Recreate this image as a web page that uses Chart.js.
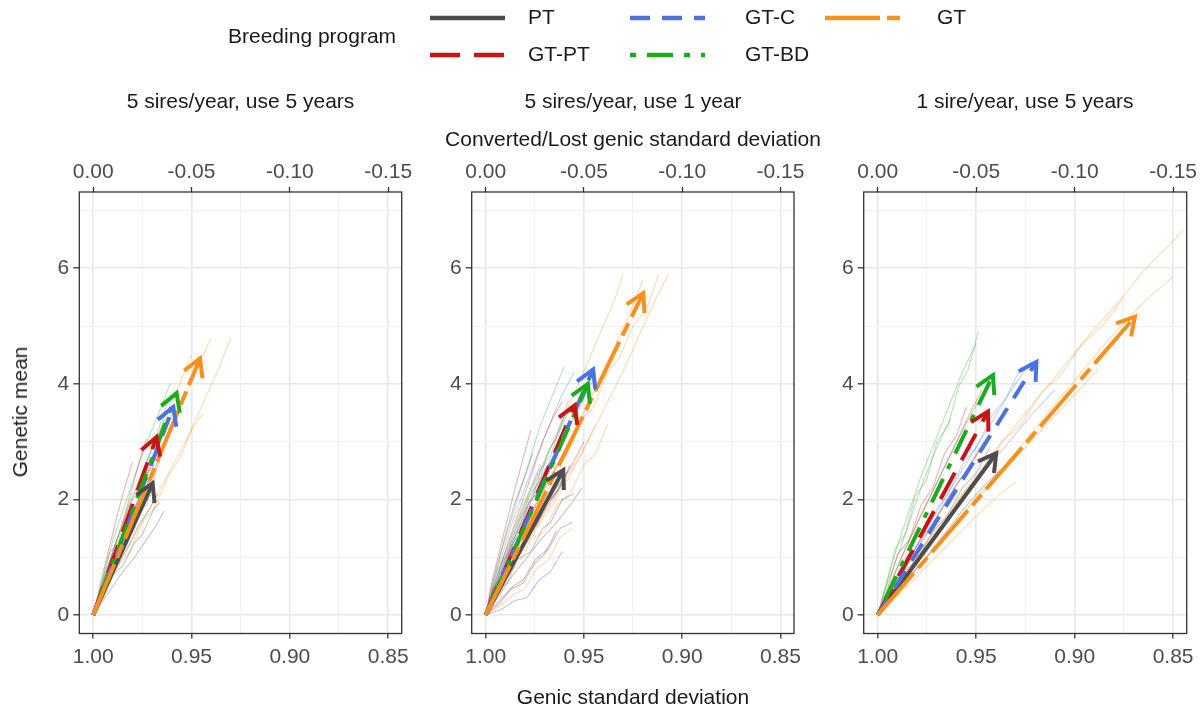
<!DOCTYPE html>
<html>
<head>
<meta charset="utf-8">
<script src="https://cdn.jsdelivr.net/npm/chart.js@4.4.1/dist/chart.umd.min.js"></script>
<style>
  body { margin: 0; width: 1203px; height: 708px; background: #fff; position: relative; overflow: hidden;
         font-family: "Liberation Sans", Arial, sans-serif; }
  canvas { position: absolute; left: 0; top: 0; }
  .lbl { position: absolute; white-space: nowrap; color: #1a1a1a; font-size: 21px; transform: translate(-50%, -50%); }
  .rot { transform: translate(-50%, -50%) rotate(-90deg); }
</style>
</head>
<body>
<canvas id="c1" width="1203" height="708"></canvas>
<canvas id="c2" width="1203" height="708"></canvas>
<canvas id="c3" width="1203" height="708"></canvas>

<div class="lbl" style="left:240.5px;top:101px">5 sires/year, use 5 years</div>
<div class="lbl" style="left:633px;top:101px">5 sires/year, use 1 year</div>
<div class="lbl" style="left:1025px;top:101px">1 sire/year, use 5 years</div>
<div class="lbl" style="left:633px;top:139px">Converted/Lost genic standard deviation</div>
<div class="lbl" style="left:633px;top:697px">Genic standard deviation</div>
<div class="lbl rot" style="left:20px;top:412px">Genetic mean</div>

<script>
// programas y estilos
const programs = ['PT', 'GT-PT', 'GT-C', 'GT-BD', 'GT'];
const progColors = ['#4D4D4D', '#C81414', '#4A72E0', '#1EAA1E', '#F8901E'];
const progDash = [[], [30, 14], [20, 12], [6, 11, 26, 11], [55, 7, 14, 7]];

// ejes
const sdTicks = [0.85, 0.875, 0.9, 0.925, 0.95, 0.975, 1.0];
const lostTicks = [-0.15, -0.10, -0.05, 0];
const meanTicks = [0, 1, 2, 3, 4, 5, 6, 7];

// puntos finales de las flechas (desviación génica, media genética)
const endSD1 = [0.9698, 0.9678, 0.9593, 0.9576, 0.9457];
const endMean1 = [2.28, 3.08, 3.60, 3.84, 4.44];
const endSD2 = [0.9605, 0.9546, 0.9453, 0.948, 0.9198];
const endMean2 = [2.51, 3.63, 4.25, 4.0, 5.57];
const endSD3 = [0.9398, 0.944, 0.9194, 0.9415, 0.8694];
const endMean3 = [2.80, 3.52, 4.38, 4.15, 5.16];

// réplicas (líneas finas) por panel y programa
const reps1PT = [
  [[1,0],[0.994,0.4],[0.988,0.85],[0.982,1.2],[0.977,1.55],[0.972,1.8],[0.967,2.1]],
  [[1,0],[0.995,0.5],[0.99,0.95],[0.984,1.35],[0.979,1.7],[0.975,2.05],[0.971,2.4]],
  [[1,0],[0.993,0.35],[0.986,0.7],[0.979,1.0],[0.973,1.3],[0.968,1.55],[0.964,1.8]],
  [[1,0],[0.995,0.3],[0.99,0.7],[0.985,0.85],[0.979,1.25],[0.975,1.4],[0.969,1.85],[0.966,1.95]],
  [[1,0],[0.996,0.45],[0.992,0.6],[0.987,1.1],[0.983,1.3],[0.978,1.75],[0.973,1.9],[0.969,2.3]]
];
const reps1GTPT = [
  [[1,0],[0.995,0.55],[0.99,1.1],[0.985,1.6],[0.981,2.1],[0.977,2.6],[0.973,3.05]],
  [[1,0],[0.994,0.5],[0.987,1.0],[0.98,1.45],[0.975,1.9],[0.97,2.3],[0.966,2.7]],
  [[1,0],[0.996,0.6],[0.992,1.15],[0.988,1.7],[0.984,2.2],[0.98,2.65]],
  [[1,0],[0.996,0.4],[0.991,0.95],[0.987,1.15],[0.982,1.7],[0.978,1.9],[0.973,2.45],[0.969,2.6]]
];
const reps1GTC = [
  [[1,0],[0.995,0.6],[0.989,1.2],[0.983,1.75],[0.977,2.3],[0.971,2.8],[0.966,3.3],[0.962,3.7]],
  [[1,0],[0.994,0.5],[0.987,1.05],[0.98,1.6],[0.974,2.1],[0.968,2.6],[0.962,3.1]],
  [[1,0],[0.996,0.45],[0.991,1.0],[0.986,1.2],[0.981,1.8],[0.976,2.0],[0.971,2.6],[0.967,2.85],[0.963,3.3]]
];
const reps1GTBD = [
  [[1,0],[0.995,0.65],[0.99,1.3],[0.984,1.9],[0.978,2.5],[0.972,3.05],[0.966,3.55],[0.961,4.0]],
  [[1,0],[0.994,0.55],[0.988,1.1],[0.981,1.65],[0.975,2.2],[0.969,2.75],[0.963,3.25],[0.958,3.6]],
  [[1,0],[0.996,0.5],[0.992,1.05],[0.987,1.3],[0.982,1.9],[0.977,2.15],[0.972,2.75],[0.968,3.0],[0.963,3.5]]
];
const reps1GT = [
  [[1,0],[0.994,0.55],[0.987,1.1],[0.98,1.65],[0.973,2.2],[0.966,2.75],[0.959,3.3],[0.952,3.9],[0.944,4.5],[0.94,4.8]],
  [[1,0],[0.993,0.5],[0.985,1.0],[0.977,1.5],[0.969,2.0],[0.961,2.5],[0.953,3.0],[0.945,3.6],[0.937,4.2],[0.93,4.8]],
  [[1,0],[0.995,0.6],[0.989,1.2],[0.983,1.8],[0.976,2.4],[0.969,2.95],[0.962,3.5],[0.956,4.0],[0.95,4.5]],
  [[1,0],[0.994,0.35],[0.988,0.85],[0.982,1.05],[0.975,1.6],[0.969,1.85],[0.962,2.4],[0.956,2.7],[0.95,3.2],[0.944,3.5]]
];

const reps2PT = [
  [[1,0],[0.995,0.35],[0.99,0.7],[0.984,1.05],[0.978,1.4],[0.972,1.75],[0.966,2.1],[0.96,2.4]],
  [[1,0],[0.996,0.45],[0.992,0.9],[0.987,1.35],[0.982,1.8],[0.977,2.2],[0.972,2.6]],
  [[1,0],[0.994,0.3],[0.987,0.65],[0.98,0.95],[0.972,1.3],[0.964,1.6],[0.957,1.9],[0.951,2.2]],
  [[1,0],[0.997,0.5],[0.993,1.0],[0.989,1.5],[0.985,1.95],[0.98,2.4],[0.976,2.8]],
  [[1,0],[0.996,0.3],[0.991,0.75],[0.987,0.9],[0.982,1.3],[0.976,1.5],[0.97,1.95],[0.965,2.05],[0.958,2.5]],
  [[1,0],[0.995,0.4],[0.989,0.55],[0.984,0.95],[0.977,1.1],[0.971,1.5],[0.967,1.6],[0.961,2.0],[0.955,2.1]],
  [[1,0],[0.993,0.25],[0.986,0.5],[0.981,0.6],[0.975,0.95],[0.968,1.15],[0.962,1.5],[0.956,1.6]],
  [[1,0],[0.992,0.1],[0.985,0.25],[0.979,0.3],[0.973,0.6],[0.967,0.75],[0.961,1.1]]
];
const reps2GTPT = [
  [[1,0],[0.996,0.5],[0.991,1.0],[0.986,1.5],[0.981,2.0],[0.976,2.5],[0.971,3.0],[0.966,3.4],[0.961,3.7]],
  [[1,0],[0.995,0.45],[0.989,0.9],[0.983,1.35],[0.976,1.8],[0.969,2.25],[0.962,2.7],[0.955,3.1]],
  [[1,0],[0.997,0.55],[0.993,1.1],[0.989,1.65],[0.985,2.2],[0.981,2.7],[0.977,3.2]],
  [[1,0],[0.994,0.4],[0.987,0.85],[0.979,1.3],[0.971,1.75],[0.963,2.2],[0.956,2.6],[0.95,3.0]],
  [[1,0],[0.996,0.45],[0.992,0.65],[0.987,1.2],[0.983,1.4],[0.978,1.95],[0.974,2.1],[0.968,2.6],[0.964,2.75],[0.958,3.3]],
  [[1,0],[0.995,0.35],[0.99,0.8],[0.985,0.95],[0.979,1.4],[0.974,1.55],[0.968,2.0],[0.963,2.15],[0.957,2.6]],
  [[1,0],[0.993,0.2],[0.987,0.45],[0.981,0.55],[0.975,0.9],[0.97,1.05],[0.964,1.45]]
];
const reps2GTC = [
  [[1,0],[0.996,0.55],[0.991,1.1],[0.986,1.65],[0.98,2.2],[0.974,2.75],[0.968,3.25],[0.962,3.75],[0.955,4.2]],
  [[1,0],[0.995,0.5],[0.989,1.0],[0.982,1.55],[0.975,2.1],[0.968,2.6],[0.96,3.1],[0.952,3.6],[0.945,4.1]],
  [[1,0],[0.995,0.45],[0.99,0.95],[0.984,1.45],[0.978,1.95],[0.971,2.45],[0.963,2.9]],
  [[1,0],[0.996,0.4],[0.991,0.95],[0.987,1.15],[0.982,1.7],[0.977,1.95],[0.972,2.5],[0.967,2.75],[0.962,3.3],[0.957,3.6]]
];
const reps2GTBD = [
  [[1,0],[0.996,0.55],[0.992,1.1],[0.987,1.65],[0.982,2.2],[0.977,2.75],[0.972,3.3],[0.966,3.8],[0.96,4.3]],
  [[1,0],[0.995,0.5],[0.99,1.0],[0.984,1.55],[0.978,2.1],[0.971,2.6],[0.964,3.1],[0.957,3.55]],
  [[1,0],[0.996,0.45],[0.992,0.7],[0.987,1.25],[0.983,1.5],[0.978,2.05],[0.973,2.3],[0.968,2.85],[0.963,3.1],[0.958,3.7]]
];
const reps2GT = [
  [[1,0],[0.995,0.45],[0.989,0.9],[0.982,1.4],[0.975,1.9],[0.967,2.4],[0.959,2.9],[0.951,3.45],[0.943,4.0],[0.935,4.6],[0.927,5.2],[0.92,5.8]],
  [[1,0],[0.994,0.4],[0.987,0.8],[0.979,1.25],[0.971,1.7],[0.962,2.2],[0.953,2.7],[0.945,3.2],[0.937,3.75],[0.929,4.3],[0.921,4.9],[0.913,5.5],[0.907,5.9]],
  [[1,0],[0.995,0.5],[0.99,1.0],[0.984,1.55],[0.977,2.1],[0.97,2.65],[0.963,3.2],[0.956,3.75],[0.949,4.3],[0.942,4.85],[0.935,5.4],[0.93,5.9]],
  [[1,0],[0.994,0.35],[0.988,0.75],[0.981,1.15],[0.973,1.55],[0.965,1.95],[0.958,2.35],[0.951,2.8],[0.944,3.3]],
  [[1,0],[0.995,0.3],[0.99,0.7],[0.984,0.85],[0.977,1.3],[0.97,1.45],[0.964,1.9],[0.957,2.1],[0.95,2.6],[0.944,2.8],[0.938,3.3]],
  [[1,0],[0.996,0.5],[0.991,0.7],[0.986,1.2],[0.98,1.4],[0.975,1.9],[0.969,2.1],[0.963,2.6],[0.957,2.85],[0.951,3.4],[0.945,3.6],[0.938,4.2],[0.932,4.45],[0.925,5.0],[0.918,5.3],[0.912,5.9]],
  [[1,0],[0.993,0.15],[0.986,0.35],[0.98,0.45],[0.974,0.8],[0.968,0.95],[0.962,1.35],[0.956,1.5]]
];

const reps3PT = [
  [[1,0],[0.993,0.4],[0.985,0.85],[0.977,1.3],[0.969,1.75],[0.961,2.2],[0.953,2.6],[0.945,3.0]],
  [[1,0],[0.992,0.35],[0.983,0.7],[0.974,1.05],[0.965,1.45],[0.956,1.85],[0.947,2.2],[0.938,2.5]],
  [[1,0],[0.994,0.3],[0.987,0.75],[0.98,0.95],[0.972,1.45],[0.965,1.7],[0.957,2.2],[0.95,2.45],[0.943,2.9]]
];
const reps3GTPT = [
  [[1,0],[0.994,0.5],[0.988,1.0],[0.981,1.5],[0.974,2.0],[0.967,2.5],[0.96,3.0],[0.953,3.5],[0.947,3.9]],
  [[1,0],[0.993,0.4],[0.986,0.85],[0.978,1.3],[0.97,1.7],[0.962,2.15],[0.954,2.55],[0.946,3.0]],
  [[1,0],[0.995,0.45],[0.99,1.05],[0.984,1.3],[0.978,1.9],[0.972,2.2],[0.966,2.8],[0.96,3.1],[0.955,3.6]]
];
const reps3GTC = [
  [[1,0],[0.993,0.45],[0.985,0.9],[0.977,1.4],[0.968,1.9],[0.959,2.4],[0.95,2.9],[0.941,3.4],[0.932,3.9],[0.922,4.4]],
  [[1,0],[0.992,0.4],[0.983,0.8],[0.973,1.25],[0.963,1.7],[0.953,2.15],[0.943,2.6],[0.932,3.05],[0.921,3.5],[0.91,3.9]],
  [[1,0],[0.994,0.4],[0.987,0.95],[0.98,1.2],[0.972,1.75],[0.965,2.05],[0.957,2.6],[0.95,2.9],[0.942,3.45],[0.935,3.75],[0.927,4.3]]
];
const reps3GTBD = [
  [[1,0],[0.995,0.6],[0.99,1.2],[0.984,1.8],[0.978,2.4],[0.971,3.0],[0.964,3.6],[0.957,4.2],[0.95,4.7]],
  [[1,0],[0.994,0.5],[0.987,1.05],[0.98,1.6],[0.972,2.15],[0.964,2.7],[0.956,3.25],[0.948,3.75],[0.94,4.2]],
  [[1,0],[0.995,0.55],[0.989,1.1],[0.983,1.7],[0.977,2.3],[0.97,2.9],[0.963,3.4]],
  [[1,0],[0.996,0.5],[0.991,1.15],[0.986,1.4],[0.981,2.05],[0.975,2.35],[0.97,3.0],[0.964,3.3],[0.959,3.95],[0.954,4.25],[0.949,4.9]]
];
const reps3GT = [
  [[1,0],[0.991,0.45],[0.981,0.95],[0.971,1.45],[0.96,1.95],[0.949,2.45],[0.938,2.95],[0.926,3.45],[0.914,3.95],[0.902,4.45],[0.89,4.95],[0.877,5.45],[0.865,5.95],[0.852,6.4],[0.845,6.65]],
  [[1,0],[0.99,0.4],[0.98,0.8],[0.969,1.25],[0.958,1.7],[0.947,2.15],[0.935,2.6],[0.923,3.1],[0.911,3.6],[0.899,4.1],[0.887,4.6],[0.874,5.1],[0.862,5.5],[0.85,5.85]],
  [[1,0],[0.992,0.35],[0.983,0.7],[0.974,1.05],[0.964,1.45],[0.954,1.85],[0.943,2.25],[0.932,2.65],[0.921,3.05],[0.91,3.45],[0.899,3.85],[0.888,4.25]],
  [[1,0],[0.991,0.3],[0.982,0.6],[0.972,0.95],[0.962,1.3],[0.952,1.65],[0.941,2.0],[0.93,2.3]],
  [[1,0],[0.992,0.45],[0.984,0.75],[0.975,1.3],[0.966,1.6],[0.956,2.15],[0.947,2.45],[0.937,3.0],[0.927,3.3],[0.917,3.85],[0.907,4.15],[0.896,4.7],[0.886,5.0],[0.875,5.5]]
];

// límites de los ejes (con la expansión de ggplot)
const sdMin = 0.8431, sdMax = 1.0071;
const meanMin = -0.32, meanMax = 7.32;

const FONT = "'Liberation Sans', Arial, sans-serif";

const panels = [
  { id: 'c1', endSD: endSD1, endMean: endMean1, reps: [reps1PT, reps1GTPT, reps1GTC, reps1GTBD, reps1GT], left: 79.3, right: 401.7 },
  { id: 'c2', endSD: endSD2, endMean: endMean2, reps: [reps2PT, reps2GTPT, reps2GTC, reps2GTBD, reps2GT], left: 471.7, right: 794 },
  { id: 'c3', endSD: endSD3, endMean: endMean3, reps: [reps3PT, reps3GTPT, reps3GTC, reps3GTBD, reps3GT], left: 863.7, right: 1186.7 }
];
const areaTop = 192, areaBottom = 633.5;

function hexAlpha(hex, a) {
  const n = parseInt(hex.slice(1), 16);
  return `rgba(${(n >> 16) & 255},${(n >> 8) & 255},${n & 255},${a})`;
}
function isMajorSD(v) { return Math.round(v * 1000) % 50 === 0; }

// puntas de flecha abiertas
const arrowHeads = {
  id: 'arrowHeads',
  afterDatasetsDraw(chart) {
    const ctx = chart.ctx;
    chart.data.datasets.forEach((ds, i) => {
      if (!ds.isArrow) return;
      const pts = chart.getDatasetMeta(i).data;
      const a = pts[pts.length - 2], b = pts[pts.length - 1];
      const ang = Math.atan2(b.y - a.y, b.x - a.x);
      const L = 20, w = 0.52;
      ctx.save();
      ctx.strokeStyle = ds.borderColor;
      ctx.lineWidth = ds.borderWidth;
      ctx.lineJoin = 'miter';
      ctx.beginPath();
      ctx.moveTo(b.x - L * Math.cos(ang - w), b.y - L * Math.sin(ang - w));
      ctx.lineTo(b.x, b.y);
      ctx.lineTo(b.x - L * Math.cos(ang + w), b.y - L * Math.sin(ang + w));
      ctx.stroke();
      ctx.restore();
    });
  }
};

// borde del panel
const panelBorder = {
  id: 'panelBorder',
  afterDraw(chart) {
    const { left, top, right, bottom } = chart.chartArea;
    const ctx = chart.ctx;
    ctx.save();
    ctx.strokeStyle = '#333333';
    ctx.lineWidth = 1.3;
    ctx.strokeRect(left, top, right - left, bottom - top);
    ctx.restore();
  }
};

// leyenda de arriba
const legendBox = {
  id: 'legendBox',
  afterDraw(chart) {
    if (!chart.options.plugins.legendBox || !chart.options.plugins.legendBox.show) return;
    const ctx = chart.ctx;
    ctx.save();
    ctx.font = `21px ${FONT}`;
    ctx.fillStyle = '#1a1a1a';
    ctx.textBaseline = 'middle';
    ctx.fillText('Breeding program', 228, 37);
    const keyX = [430, 430, 630, 630, 825];
    const keyY = [18, 55, 18, 55, 18];
    const labX = [528, 528, 745, 745, 937];
    programs.forEach((p, i) => {
      ctx.strokeStyle = progColors[i];
      ctx.lineWidth = 4.5;
      ctx.setLineDash(progDash[i]);
      ctx.beginPath();
      ctx.moveTo(keyX[i], keyY[i]);
      ctx.lineTo(keyX[i] + 75, keyY[i]);
      ctx.stroke();
      ctx.setLineDash([]);
      ctx.fillText(p, labX[i], keyY[i]);
    });
    ctx.restore();
  }
};

function buildDatasets(panel) {
  const ds = [];
  programs.forEach((p, i) => {
    ds.push({
      label: p,
      isArrow: true,
      data: [{ x: 1, y: 0 }, { x: panel.endSD[i], y: panel.endMean[i] }],
      borderColor: progColors[i],
      borderWidth: 4,
      borderDash: progDash[i],
      pointRadius: 0,
      tension: 0,
      order: 5 - i
    });
  });
  panel.reps.forEach((lines, i) => {
    lines.forEach(pts => {
      ds.push({
        label: programs[i] + ' rep',
        data: pts.map(q => ({ x: q[0], y: q[1] })),
        borderColor: hexAlpha(progColors[i], 0.32),
        borderWidth: 1.1,
        pointRadius: 0,
        tension: 0,
        order: 10
      });
    });
  });
  return ds;
}

function makeChart(panel, showLegend) {
  const tickFont = { family: FONT, size: 21 };
  return new Chart(document.getElementById(panel.id), {
    type: 'line',
    data: { datasets: buildDatasets(panel) },
    plugins: [arrowHeads, panelBorder, legendBox],
    options: {
      responsive: false,
      animation: false,
      events: [],
      layout: {
        autoPadding: false,
        padding: { left: panel.left - 40, right: 1203 - panel.right, top: areaTop - 40, bottom: 708 - areaBottom - 40 }
      },
      plugins: { legend: { display: false }, tooltip: { enabled: false }, legendBox: { show: showLegend } },
      scales: {
        x: {
          type: 'linear', position: 'bottom', reverse: true, min: sdMin, max: sdMax,
          afterBuildTicks: s => { s.ticks = sdTicks.map(v => ({ value: v })); },
          afterFit: s => { s.height = 40; },
          border: { display: false },
          grid: {
            color: c => (c.tick && isMajorSD(c.tick.value)) ? '#E8E8E8' : '#F1F1F1',
            lineWidth: c => (c.tick && isMajorSD(c.tick.value)) ? 1.6 : 1.1,
            tickColor: c => (c.tick && isMajorSD(c.tick.value)) ? '#333333' : 'rgba(0,0,0,0)',
            tickLength: 5, tickWidth: 1.3
          },
          ticks: {
            autoSkip: false, maxRotation: 0, padding: 6, color: '#4D4D4D', font: tickFont,
            callback: v => isMajorSD(v) ? v.toFixed(2) : ''
          }
        },
        x2: {
          type: 'linear', position: 'top', reverse: true, min: sdMin - 1, max: sdMax - 1,
          afterBuildTicks: s => { s.ticks = lostTicks.map(v => ({ value: v })); },
          afterFit: s => { s.height = 40; },
          border: { display: false },
          grid: { drawOnChartArea: false, tickColor: '#333333', tickLength: 5, tickWidth: 1.3 },
          ticks: {
            autoSkip: false, maxRotation: 0, padding: 2, color: '#4D4D4D', font: tickFont,
            callback: v => (Math.abs(v) < 1e-9 ? 0 : v).toFixed(2)
          }
        },
        y: {
          type: 'linear', position: 'left', min: meanMin, max: meanMax,
          afterBuildTicks: s => { s.ticks = meanTicks.map(v => ({ value: v })); },
          afterFit: s => { s.width = 40; },
          border: { display: false },
          grid: {
            color: c => (c.tick && c.tick.value % 2 === 0) ? '#E8E8E8' : '#F1F1F1',
            lineWidth: c => (c.tick && c.tick.value % 2 === 0) ? 1.6 : 1.1,
            tickColor: c => (c.tick && c.tick.value % 2 === 0) ? '#333333' : 'rgba(0,0,0,0)',
            tickLength: 6, tickWidth: 1.3
          },
          ticks: {
            autoSkip: false, padding: 4, color: '#4D4D4D', font: tickFont,
            callback: v => v % 2 === 0 ? String(v) : ''
          }
        }
      }
    }
  });
}

panels.forEach((p, i) => makeChart(p, i === 0));
</script>
</body>
</html>
